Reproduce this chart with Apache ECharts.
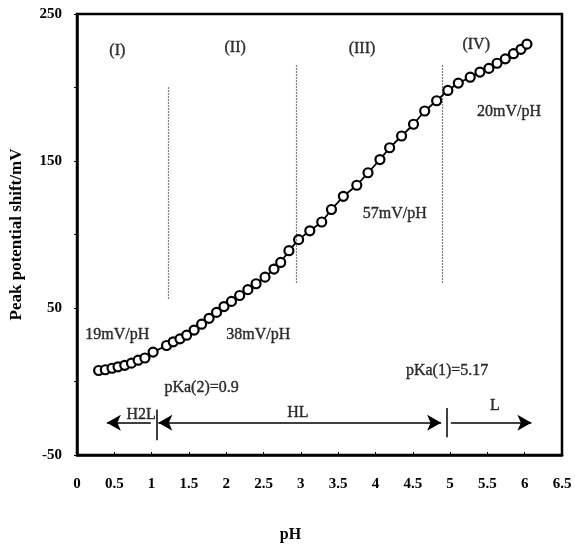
<!DOCTYPE html>
<html>
<head>
<meta charset="utf-8">
<script src="https://cdn.jsdelivr.net/npm/echarts@6/dist/echarts.min.js"></script>
<style>
  html, body { margin: 0; padding: 0; background: #fff; }
  #chart { width: 575px; height: 548px; }
</style>
</head>
<body>
<div id="chart"></div>
<script>
// 数据点 (pH, 峰电位偏移 mV)
const phData = [0.29, 0.38, 0.47, 0.55, 0.64, 0.73, 0.82, 0.91, 1.02,
    1.20, 1.29, 1.38, 1.47, 1.57, 1.67, 1.77, 1.87, 1.97, 2.07, 2.18, 2.29, 2.40, 2.52, 2.64, 2.73, 2.84,
    2.97, 3.12, 3.28, 3.41, 3.57, 3.75, 3.90, 4.06, 4.19, 4.35, 4.51, 4.66, 4.82, 4.97,
    5.11, 5.27, 5.40, 5.52, 5.63, 5.74, 5.85, 5.95, 6.03];
const shiftData = [7.5, 8, 9, 10, 11, 12.5, 14.5, 16, 20,
    24.5, 27, 29, 31.5, 35, 39, 43, 47, 51, 54.5, 58.5, 62.5, 66.5, 71, 76.5, 81, 89,
    96.5, 102.5, 108.5, 117, 126, 133.5, 142, 151, 159, 167, 175, 184, 191, 198,
    203, 207, 210.5, 213, 216.5, 219.5, 223, 226, 229.5];

// 区域分界虚线
const dividerX = [1.22, 2.94, 4.89];
const dividerTop = [200, 215, 215];
const dividerBottom = [56, 66, 66];

// 注释文字
const noteText = ['(I)', '(II)', '(III)', '(IV)', '19mV/pH', '38mV/pH', '57mV/pH', '20mV/pH',
    'pKa(2)=0.9', 'pKa(1)=5.17', 'H2L', 'HL', 'L'];
const noteX = [0.54, 2.12, 3.82, 5.35, 0.54, 2.43, 4.26, 5.79, 1.67, 4.96, 0.86, 2.96, 5.60];
const noteY = [225, 227, 226, 229, 32, 32, 114, 183.6, -4, 7, -22.5, -21.5, -16.5];

// 物种区间箭头
const arrowY = -28;
const arrowFrom = [0.99, 1.09, 5.01];
const arrowTo = [0.40, 4.88, 6.09];
const arrowBoth = [false, true, false];
const tickX = [1.07, 4.95];
const tickTop = [-19, -18];
const tickBottom = [-40, -38];

const serif = 'Liberation Serif';

let chart = echarts.init(document.getElementById('chart'));

let dividerLines = dividerX.map((x, i) => [
    { coord: [x, dividerTop[i]] },
    { coord: [x, dividerBottom[i]] }
]);

let arrowLines = arrowFrom.map((x, i) => [
    { coord: [x, arrowY], symbol: arrowBoth[i] ? 'arrow' : 'none' },
    { coord: [arrowTo[i], arrowY], symbol: 'arrow' }
]).concat(tickX.map((x, i) => [
    { coord: [x, tickTop[i]], symbol: 'none' },
    { coord: [x, tickBottom[i]], symbol: 'none' }
]));

let option = {
    backgroundColor: '#fff',
    animation: false,
    grid: {
        left: 77,
        right: 13,
        top: 14,
        bottom: 91,
        show: true,
        borderColor: '#000',
        borderWidth: 2.5,
        containLabel: false
    },
    xAxis: {
        type: 'value',
        min: 0,
        max: 6.5,
        interval: 0.5,
        name: 'pH',
        nameLocation: 'middle',
        nameGap: 72,
        nameTextStyle: {
            color: '#000',
            fontFamily: serif,
            fontWeight: 'bold',
            fontSize: 16,
            padding: [0, 58, 0, 0]
        },
        axisLine: { onZero: false, lineStyle: { color: '#000', width: 2.5 } },
        axisTick: { inside: true, length: 3, lineStyle: { color: '#000' } },
        axisLabel: {
            color: '#000',
            fontFamily: serif,
            fontWeight: 'bold',
            fontSize: 15,
            margin: 22
        },
        splitLine: { show: false }
    },
    yAxis: {
        type: 'value',
        min: -50,
        max: 250,
        interval: 50,
        name: 'Peak potential shift/mV',
        nameLocation: 'middle',
        nameGap: 52,
        nameTextStyle: {
            color: '#000',
            fontFamily: serif,
            fontWeight: 'bold',
            fontSize: 17
        },
        axisLine: { onZero: false, lineStyle: { color: '#000', width: 2.5 } },
        axisTick: { length: 3, lineStyle: { color: '#000' } },
        axisLabel: {
            color: '#000',
            fontFamily: serif,
            fontWeight: 'bold',
            fontSize: 15,
            margin: 15,
            formatter: function (v) {
                return (v + 50) % 100 === 0 ? String(v) : '';
            }
        },
        splitLine: { show: false }
    },
    series: [
        {
            name: 'shift',
            type: 'line',
            data: phData.map((x, i) => [x, shiftData[i]]),
            symbol: 'circle',
            symbolSize: 9,
            showAllSymbol: true,
            lineStyle: { color: '#000', width: 1.8 },
            itemStyle: { color: '#fff', borderColor: '#000', borderWidth: 2.2 },
            z: 3,
            markLine: {
                silent: true,
                symbol: 'none',
                label: { show: false },
                lineStyle: { color: '#000', width: 1.2, type: [1, 2] },
                data: dividerLines
            }
        },
        {
            name: 'notes',
            type: 'scatter',
            data: noteX.map((x, i) => ({ name: noteText[i], value: [x, noteY[i]] })),
            symbolSize: 1,
            itemStyle: { color: 'rgba(0,0,0,0)' },
            silent: true,
            label: {
                show: true,
                position: 'inside',
                formatter: '{b}',
                color: '#000',
                textBorderColor: '#000',
                textBorderWidth: 0.4,
                fontFamily: serif,
                fontSize: 16
            },
            markLine: {
                silent: true,
                symbolSize: [12, 14],
                label: { show: false },
                lineStyle: { color: '#000', width: 1.5, type: 'solid' },
                data: arrowLines
            }
        }
    ]
};
chart.setOption(option);
</script>
</body>
</html>
